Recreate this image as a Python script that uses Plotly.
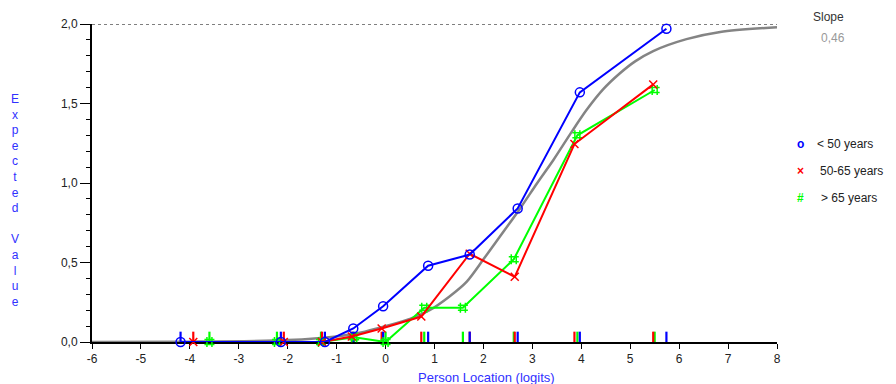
import plotly.graph_objects as go

# ---- data ----
blue_x = [-4.19, -2.14, -1.24, -0.66, -0.05, 0.87, 1.72, 2.70, 3.97, 5.74]
blue_y = [0.0, 0.0, 0.0, 0.085, 0.225, 0.48, 0.55, 0.84, 1.57, 1.97]

red_x = [-3.93, -2.08, -1.30, -0.69, -0.08, 0.73, 1.72, 2.64, 3.86, 5.47]
red_y = [0.0, 0.0, 0.0, 0.035, 0.085, 0.16, 0.555, 0.41, 1.245, 1.62]

green_x = [-3.60, -2.22, -1.32, -0.64, 0.0, 0.79, 1.58, 2.62, 3.92, 5.50]
green_y = [0.0, 0.0, 0.0, 0.03, 0.0, 0.215, 0.215, 0.52, 1.30, 1.585]

curve_x = [-6, -4, -2, -1, -0.5, 0, 0.5, 0.9, 1.3, 1.66, 2.0, 2.33, 2.75, 3.1, 3.43,
           3.8, 4.11, 4.45, 4.79, 5.1, 5.47, 6.15, 6.84, 8]
curve_y = [0.0, 0.002, 0.012, 0.035, 0.06, 0.1, 0.145, 0.2, 0.285, 0.38, 0.52, 0.66, 0.84, 1.0, 1.145,
           1.32, 1.46, 1.59, 1.69, 1.765, 1.83, 1.905, 1.95, 1.98]

series_names = ["< 50 years", "50-65 years", "> 65 years"]
slope_label = "Slope"
slope_value = "0,46"

x_ticks = list(range(-6, 9))
y_ticks = [0.0, 0.5, 1.0, 1.5, 2.0]

BLUE = "#0000ff"
RED = "#ff0000"
GREEN = "#00ff00"
GRAY = "#848484"

W, H = 896, 384
L, R, T, B = 92, 119, 24, 42
PW, PH = W - L - R, H - T - B


def px2paper(px, py):
    return (px - L) / PW, (H - B - py) / PH


def rug(xs, h=0.065):
    rx, ry = [], []
    for v in xs:
        rx += [v, v, None]
        ry += [0, h, None]
    return rx, ry


fig = go.Figure()

fig.add_trace(go.Scatter(x=curve_x, y=curve_y, mode="lines",
                         line=dict(color=GRAY, width=2.5, shape="spline", smoothing=0.8),
                         hoverinfo="skip", showlegend=False))

for xs, col in [(green_x, GREEN), (red_x, RED), (blue_x, BLUE)]:
    rx, ry = rug(xs)
    fig.add_trace(go.Scatter(x=rx, y=ry, mode="lines", line=dict(color=col, width=2.2),
                             hoverinfo="skip", showlegend=False, cliponaxis=False))

fig.add_trace(go.Scatter(x=green_x, y=green_y, mode="lines+markers", name=series_names[2],
                         line=dict(color=GREEN, width=2),
                         marker=dict(symbol="hash-open", size=10, color=GREEN, line=dict(width=1.5, color=GREEN)),
                         cliponaxis=False, showlegend=False))
fig.add_trace(go.Scatter(x=red_x, y=red_y, mode="lines+markers", name=series_names[1],
                         line=dict(color=RED, width=2),
                         marker=dict(symbol="x-thin-open", size=8, color=RED, line=dict(width=1.5, color=RED)),
                         cliponaxis=False, showlegend=False))
fig.add_trace(go.Scatter(x=blue_x, y=blue_y, mode="lines+markers", name=series_names[0],
                         line=dict(color=BLUE, width=2),
                         marker=dict(symbol="circle-open", size=9, color=BLUE, line=dict(width=1.5, color=BLUE)),
                         cliponaxis=False, showlegend=False))

# dashed max line
fig.add_shape(type="line", xref="x", yref="y", x0=x_ticks[0], x1=x_ticks[-1], y0=2, y1=2,
              line=dict(color="#000000", width=1, dash="3px,3px"), layer="below")

annotations = []
ytitle = "<br>".join(list("Expected") + [" "] + list("Value"))
ax, ay = px2paper(15, 200)
annotations.append(dict(text=ytitle, x=ax, y=ay, xref="paper", yref="paper", showarrow=False,
                        font=dict(size=12, color="#3030ff", family="Liberation Sans, Arial"),
                        xanchor="center", yanchor="middle", align="center"))
ax, ay = px2paper(486.5, 377)
annotations.append(dict(text="Person Location (logits)", x=ax, y=ay, xref="paper", yref="paper",
                        showarrow=False, font=dict(size=13, color="#3030ff", family="Liberation Sans, Arial"),
                        xanchor="center", yanchor="middle"))
ax, ay = px2paper(828, 17)
annotations.append(dict(text=slope_label, x=ax, y=ay, xref="paper", yref="paper", showarrow=False,
                        font=dict(size=12, color="#333333", family="Liberation Sans, Arial"),
                        xanchor="center", yanchor="middle"))
ax, ay = px2paper(833, 38)
annotations.append(dict(text=slope_value, x=ax, y=ay, xref="paper", yref="paper", showarrow=False,
                        font=dict(size=12, color="#999999", family="Liberation Sans, Arial"),
                        xanchor="center", yanchor="middle"))

legend_syms = ["<b>o</b>", "<b>×</b>", "<b>#</b>"]
legend_cols = [BLUE, RED, GREEN]
legend_py = [144, 171, 198]
legend_tx = [815, 818, 819]
for sym, col, py, tx, name in zip(legend_syms, legend_cols, legend_py, legend_tx, series_names):
    sx, sy = px2paper(800, py)
    annotations.append(dict(text=sym, x=sx, y=sy, xref="paper", yref="paper", showarrow=False,
                            font=dict(size=12, color=col, family="Liberation Sans, Arial"),
                            xanchor="center", yanchor="middle"))
    tx2, _ = px2paper(tx, py)
    annotations.append(dict(text=name, x=tx2, y=sy, xref="paper", yref="paper", showarrow=False,
                            font=dict(size=12, color="#222222", family="Liberation Sans, Arial"),
                            xanchor="left", yanchor="middle"))

fig.update_layout(
    width=W, height=H,
    margin=dict(l=L, r=R, t=T, b=B, pad=0),
    paper_bgcolor="white", plot_bgcolor="white",
    separators=",.",
    font=dict(family="Liberation Sans, Arial", size=12, color="#222222"),
    annotations=annotations,
    showlegend=False,
    xaxis=dict(range=[x_ticks[0], x_ticks[-1]], tickvals=x_ticks, ticktext=[str(v) for v in x_ticks],
               showgrid=False, zeroline=False, showline=True, linecolor="#000000", linewidth=2,
               ticks="outside", ticklen=5, tickwidth=1, tickcolor="#000000", layer="below traces",
               tickfont=dict(size=12, color="#222222")),
    yaxis=dict(range=[0, 2], tickvals=y_ticks, tickformat=".1f",
               showgrid=False, zeroline=False, showline=True, linecolor="#000000", linewidth=2,
               ticks="outside", ticklen=10, tickwidth=1, tickcolor="#000000", layer="below traces",
               minor=dict(dtick=0.1, ticks="outside", ticklen=4, tickwidth=1, tickcolor="#000000"),
               tickfont=dict(size=12, color="#222222")),
)

fig.write_html("out.html")
